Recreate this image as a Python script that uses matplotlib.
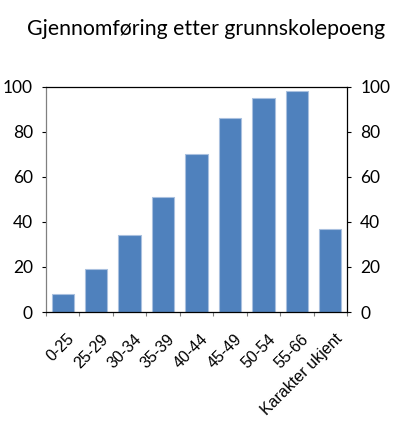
import matplotlib
matplotlib.use('Agg')
import matplotlib.pyplot as plt
import matplotlib.transforms as mtransforms
import numpy as np

# data
categories = ['0-25', '25-29', '30-34', '35-39', '40-44', '45-49', '50-54', '55-66', 'Karakter ukjent']
values = [8, 19, 34, 51, 70, 86, 95, 98, 37]
yticks = [0, 20, 40, 60, 80, 100]

bar_color = '#4f81bd'

fig = plt.figure(figsize=(4.0, 4.26), dpi=100)
ax = fig.add_axes([0.115, 0.2676, 0.7525, 0.5282])

x = np.arange(len(categories))
ax.bar(x, values, width=0.67, color=bar_color, edgecolor='#a9c0df', linewidth=0.8)

ax.set_xlim(-0.5, len(categories) - 0.5)
ax.set_ylim(0, 100)

# ticks between categories on the x axis
ax.set_xticks(np.arange(len(categories) + 1) - 0.5)
ax.set_xticklabels([])
ax.set_xticks(x, minor=True)
ax.set_xticklabels(categories, minor=True, rotation=45, ha='right', va='top',
                   rotation_mode='anchor', fontsize=11.5, family='Liberation Sans')
ax.tick_params(axis='x', which='minor', length=0, pad=14)
ax.tick_params(axis='x', which='major', length=3, color='#808080', direction='out')
shift = mtransforms.ScaledTranslation(4 / 100, 0, fig.dpi_scale_trans)
for lbl in ax.get_xticklabels(minor=True):
    lbl.set_transform(lbl.get_transform() + shift)

ax.set_yticks(yticks)
ax.tick_params(axis='y', length=3, direction='out', labelsize=12.5, pad=6.5,
               labelright=True, right=True)
for lbl in ax.get_yticklabels():
    lbl.set_family('Lato')

ax.spines['left'].set_color('#808080')
ax.spines['bottom'].set_color('black')
ax.spines['right'].set_color('black')
ax.spines['top'].set_color('black')
for s in ax.spines.values():
    s.set_linewidth(0.9)

fig.text(0.515, 0.918, 'Gjennomføring etter grunnskolepoeng', ha='center', va='baseline',
         fontsize=15.3, family='Lato')

fig.savefig('out.png', dpi=100)
